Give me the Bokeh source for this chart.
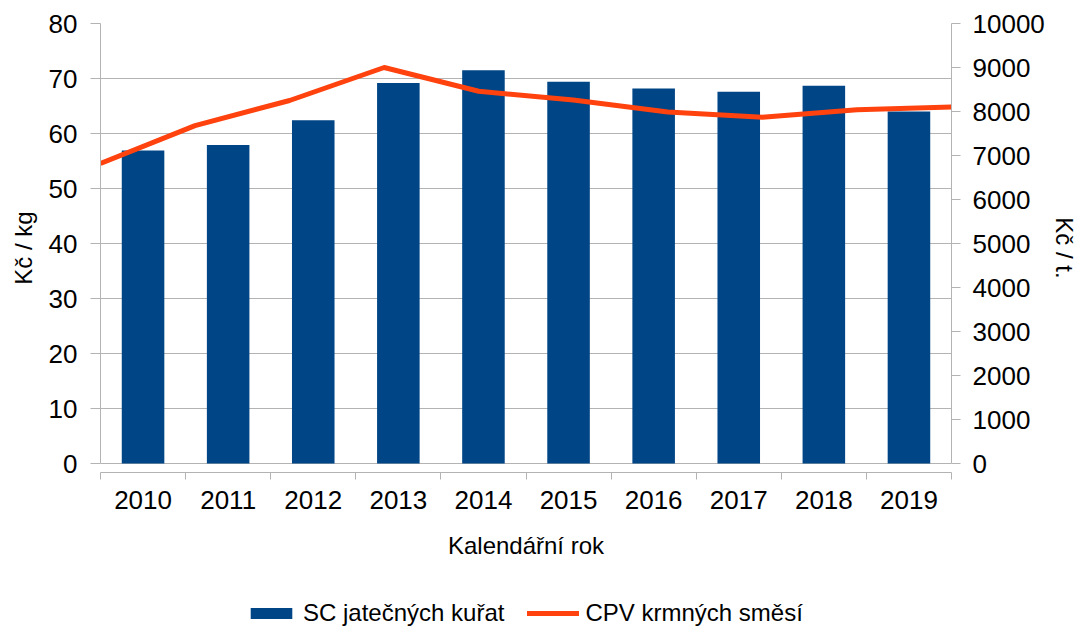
from bokeh.plotting import figure
from bokeh.layouts import column
from bokeh.models import (Range1d, LinearAxis, FixedTicker, Legend, LegendItem,
                          ColumnDataSource, BoxAnnotation)
from bokeh.embed import file_html
from bokeh.resources import INLINE

years = [2010, 2011, 2012, 2013, 2014, 2015, 2016, 2017, 2018, 2019]
sc_kurat = [56.9, 57.9, 62.4, 69.2, 71.5, 69.4, 68.2, 67.6, 68.7, 64.0]
cpv_smesi = [6820, 7680, 8250, 9000, 8460, 8260, 7990, 7870, 8040, 8100]
left_ticks = [0, 10, 20, 30, 40, 50, 60, 70, 80]
right_ticks = [0, 1000, 2000, 3000, 4000, 5000, 6000, 7000, 8000, 9000, 10000]

FONT = "Liberation Sans"
GRID = "#b3b3b3"
BLUE = "#004586"
ORANGE = "#ff420e"

n = len(years)
pad = 9.0 / 440.0  # axis offset below zero line

bar_src = ColumnDataSource(dict(x=[i + 0.5 for i in range(n)], top=sc_kurat,
                                year=[str(y) for y in years]))
line_src = ColumnDataSource(dict(x=list(range(n)), y=cpv_smesi))

p = figure(frame_width=851, frame_height=449, output_backend="svg", toolbar_location=None,
           x_range=Range1d(0, n), y_range=Range1d(-80 * pad, 80),
           min_border_left=100, min_border_top=23, min_border_right=127, min_border_bottom=120,
           background_fill_color="white", border_fill_color="white")
p.outline_line_color = None
p.extra_y_ranges = {"cpv": Range1d(-10000 * pad, 10000)}
p.extra_x_ranges = {"line": Range1d(0, n - 1)}

bars = p.vbar(x="x", top="top", bottom=0, width=0.5, source=bar_src,
              fill_color=BLUE, line_color=None)
line = p.line(x="x", y="y", source=line_src, x_range_name="line", y_range_name="cpv",
              line_color=ORANGE, line_width=5, line_join="round")

# grid
p.xgrid.grid_line_color = None
p.ygrid.ticker = FixedTicker(ticks=left_ticks)
p.ygrid.grid_line_color = GRID
p.ygrid.grid_line_width = 1

# left axis
ya = p.yaxis[0]
ya.ticker = FixedTicker(ticks=left_ticks)
ya.bounds = (0, 80)
ya.axis_line_color = GRID
ya.major_tick_line_color = GRID
ya.major_tick_out = 10
ya.major_tick_in = 0
ya.minor_tick_line_color = None
ya.major_label_text_font = FONT
ya.major_label_text_font_size = "26px"
ya.major_label_text_color = "black"
ya.major_label_standoff = 13
ya.axis_label = "Kč / kg"
ya.axis_label_text_font = FONT
ya.axis_label_text_font_size = "24px"
ya.axis_label_text_font_style = "normal"
ya.axis_label_text_color = "black"
ya.axis_label_standoff = 9

# right axis
ra = LinearAxis(y_range_name="cpv", ticker=FixedTicker(ticks=right_ticks), bounds=(0, 10000))
ra.axis_line_color = GRID
ra.major_tick_line_color = GRID
ra.major_tick_out = 9
ra.major_tick_in = 0
ra.minor_tick_line_color = None
ra.major_label_text_font = FONT
ra.major_label_text_font_size = "26px"
ra.major_label_text_color = "black"
ra.major_label_standoff = 12
ra.axis_label = "Kč / t."
ra.axis_label_text_font = FONT
ra.axis_label_text_font_size = "24px"
ra.axis_label_text_font_style = "normal"
ra.axis_label_text_color = "black"
ra.axis_label_standoff = 3
p.add_layout(ra, "right")

# bottom axis
xa = p.xaxis[0]
xa.ticker = FixedTicker(ticks=[i + 0.5 for i in range(n)], minor_ticks=list(range(n + 1)))
xa.major_label_overrides = {i + 0.5: str(y) for i, y in enumerate(years)}
xa.axis_line_color = GRID
xa.major_tick_out = 0
xa.major_tick_in = 0
xa.major_tick_line_color = None
xa.minor_tick_out = 7
xa.minor_tick_in = 0
xa.minor_tick_line_color = GRID
xa.major_label_text_font = FONT
xa.major_label_text_font_size = "26px"
xa.major_label_text_color = "black"
xa.major_label_standoff = 11
xa.axis_label = "Kalendářní rok"
xa.axis_label_text_font = FONT
xa.axis_label_text_font_size = "24px"
xa.axis_label_text_font_style = "normal"
xa.axis_label_text_color = "black"
xa.axis_label_standoff = 20

# legend strip below the chart (same series, ranges chosen so nothing is drawn in it)
lg = figure(width=1078, height=38, output_backend="svg", toolbar_location=None,
            x_range=Range1d(1000, 1001), y_range=Range1d(100000, 100001),
            min_border_left=0, min_border_right=0, min_border_top=0, min_border_bottom=0,
            background_fill_color="white", border_fill_color="white")
lg.axis.visible = False
lg.grid.grid_line_color = None
lg.outline_line_color = None
lbar = lg.vbar(x="x", top="top", bottom=0, width=0.5, source=bar_src,
               fill_color=BLUE, line_color=None)
lline = lg.line(x="x", y="y", source=line_src, line_color=ORANGE, line_width=5,
                line_cap="round")
# white cover so no stray glyph pixels show in the legend strip
lg.add_layout(BoxAnnotation(fill_color="white", fill_alpha=1.0, line_color=None))

legend = Legend(items=[LegendItem(label="SC jatečných kuřat", renderers=[lbar]),
                       LegendItem(label="CPV krmných směsí", renderers=[lline])],
                orientation="horizontal", location=(145, 3),
                border_line_color=None, background_fill_alpha=0,
                label_text_font=FONT, label_text_font_size="24px", label_text_color="black",
                glyph_width=52, glyph_height=14, spacing=23, label_standoff=6,
                padding=0, margin=0)
lg.add_layout(legend, "center")

layout = column(p, lg, spacing=0)
open("out.html", "w").write(file_html(layout, INLINE))
